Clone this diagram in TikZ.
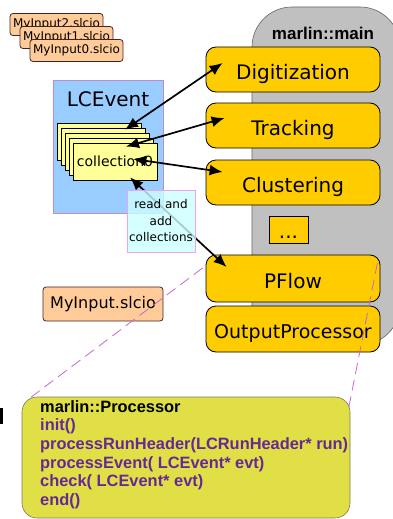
\documentclass[tikz,border=0pt]{standalone}
\usepackage{fontspec}
\setmainfont{DejaVu Sans}
\newfontfamily\classfont{Liberation Sans}
\usetikzlibrary{calc,arrows.meta}
\definecolor{fileorange}{RGB}{255,204,153}
\definecolor{fileborder}{RGB}{70,35,35}
\definecolor{evblue}{RGB}{153,204,255}
\definecolor{evborder}{RGB}{190,140,200}
\definecolor{collyellow}{RGB}{255,255,153}
\definecolor{readcyan}{RGB}{204,255,255}
\definecolor{readborder}{RGB}{240,160,240}
\definecolor{maingray}{RGB}{192,192,192}
\definecolor{marlinorange}{RGB}{255,204,0}
\definecolor{classyellow}{RGB}{224,224,70}
\definecolor{classborder}{RGB}{120,120,100}
\definecolor{methodpurple}{RGB}{102,40,150}
\definecolor{zoompink}{RGB}{200,100,210}
\tikzset{
	filebox/.style={draw=fileborder, fill=fileorange, rounded corners=3pt, line width=0.8pt, minimum width=93pt, minimum height=22pt, inner sep=0pt},
	collbox/.style={draw=black, fill=collyellow, line width=0.8pt, minimum width=84pt, minimum height=37pt, inner sep=0pt},
	marlinbox/.style={draw=black, fill=marlinorange, rounded corners=10pt, line width=0.8pt, minimum width=174pt, inner sep=0pt, font=\fontsize{20}{24}\selectfont, text height=21pt, text depth=2pt},
	link/.style={{Latex[length=13pt,width=11pt]}-{Latex[length=13pt,width=11pt]}, line width=1.7pt},
	zoomline/.style={draw=zoompink, line width=0.8pt, dash pattern=on 11pt off 6pt}
}

\begin{document}
\begin{tikzpicture}[x=1pt, y=-1pt]
			%%%%% START %%%%%
			\useasboundingbox (0,0) rectangle (392,519);
			
			% input files
			\node[filebox, font=\fontsize{12}{14}\selectfont] (in2) at (56.5,24.5) {MyInput2.slcio};
			\node[filebox, font=\fontsize{12}{14}\selectfont] (in1) at (66.5,37.5) {MyInput1.slcio};
			\node[filebox, font=\fontsize{12}{14}\selectfont] (in0) at (76.5,50.5) {MyInput0.slcio};
			
			% event with its collections
			\node[draw=evborder, fill=evblue, line width=0.6pt, minimum width=110pt, minimum height=133pt] (lcevent) at (108,146.5) {};
			\node[font=\fontsize{20}{24}\selectfont] (lclabel) at (108,99) {LCEvent};
			\node[collbox] (collA) at (99,141.5) {};
			\node[collbox] (collB) at (103,146.5) {};
			\node[collbox] (collC) at (107,151.5) {};
			\node[collbox] (collD) at (111,156.5) {};
			\node[collbox, font=\fontsize{14}{17}\selectfont] (coll0) at (115,161.5) {collection0};
			
			% marlin main and its processors
			\node[draw=black!60, fill=maingray, rounded corners=40pt, line width=0.6pt, minimum width=148pt, minimum height=338pt] (main) at (326,176) {};
			\node[font=\classfont\bfseries\fontsize{17}{20}\selectfont] (mainlabel) at (323,33) {marlin::main};
			\node[marlinbox, minimum height=45pt] (dig) at (293,69.5) {Digitization};
			\node[marlinbox, minimum height=45pt] (trk) at (293,125.5) {Tracking};
			\node[marlinbox, minimum height=45pt] (clu) at (293,182.5) {Clustering};
			\node[draw=black, fill=marlinorange, line width=0.8pt, minimum width=39pt, minimum height=27pt, inner sep=0pt, font=\fontsize{20}{24}\selectfont, text height=18pt, text depth=0pt] (dots) at (288.5,229.5) {...};
			\node[marlinbox, minimum height=47pt] (pflow) at (293,278.5) {PFlow};
			\node[marlinbox, minimum height=46pt, font=\fontsize{19}{23}\selectfont] (outp) at (293,329) {OutputProcessor};
			
			% read / write of the collections
			\draw[link] ($(collA.north)+(26,7)$) -- ($(dig.west)+(17,-6.5)$);
			\draw[link] ($(coll0.north)+(11,4)$) -- ($(trk.west)+(19,-7.5)$);
			\draw[link] ($(coll0.center)+(18,-2.5)$) -- ($(clu.west)+(17,-10.5)$);
			\draw[link] ($(coll0.south)+(15,-3)$) -- ($(pflow.west)+(21,-11.5)$);
			
			\node[draw=readborder, fill=readcyan, fill opacity=0.8, text opacity=1, line width=0.6pt, minimum width=68pt, minimum height=62pt, inner sep=0pt, align=center, font=\fontsize{12}{16.5}\selectfont] (readnote) at (161,221) {read and\\add\\collections};
			
			\node[filebox, minimum width=120pt, minimum height=34pt, font=\fontsize{16}{19}\selectfont] (output) at (103,304) {MyInput.slcio};
			
			% processor interface
			\node[draw=classborder, fill=classyellow, rounded corners=15pt, line width=0.6pt, minimum width=328pt, minimum height=121pt] (proc) at (186,457.5) {};
			\node[anchor=north west, inner sep=0pt, align=left, font=\classfont\bfseries\fontsize{16.4}{18.6}\selectfont] (proctext) at (40,400.2) {marlin::Processor\\
				\textcolor{methodpurple}{init()}\\
				\textcolor{methodpurple}{processRunHeader(LCRunHeader* run)}\\
				\textcolor{methodpurple}{processEvent( LCEvent* evt)}\\
				\textcolor{methodpurple}{check( LCEvent* evt)}\\
				\textcolor{methodpurple}{end()}};
			
			\draw[zoomline] ($(pflow.west)+(-3,-10.5)$) -- ($(proc.north west)+(6,3)$);
			\draw[zoomline] ($(pflow.east)+(-3,-15.5)$) -- ($(proc.north east)+(-2,13)$);
			
			\draw[fill=black] (0,408) rectangle (2.5,423);
			%%%%% END %%%%%
		\end{tikzpicture}
\end{document}
